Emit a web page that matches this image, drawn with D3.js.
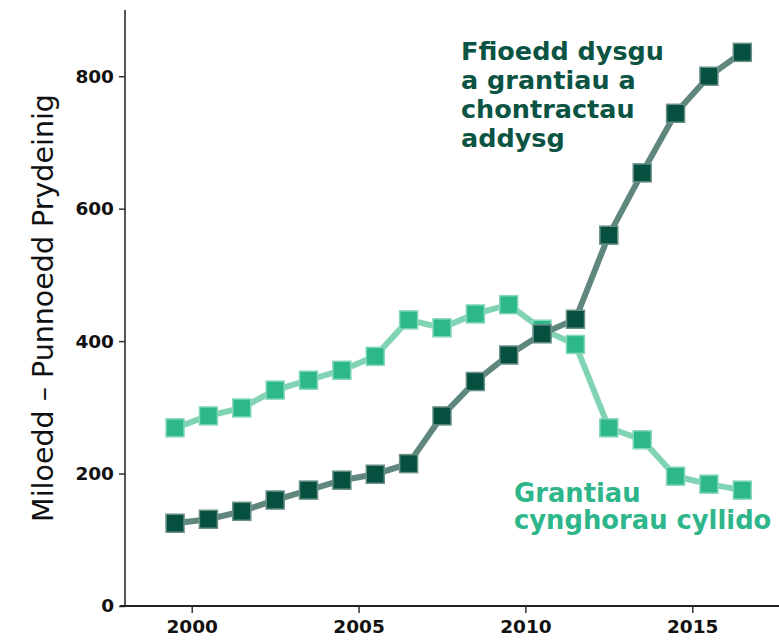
<!DOCTYPE html>
<html>
<head>
<meta charset="utf-8">
<script src="https://cdn.jsdelivr.net/npm/d3@7"></script>
<style>
  html, body { margin: 0; padding: 0; background: #ffffff; }
  svg { display: block; }
</style>
</head>
<body>
<svg id="chart" width="779" height="640"></svg>
<script>
// ---- data ----
const years = [1999.5, 2000.5, 2001.5, 2002.5, 2003.5, 2004.5, 2005.5, 2006.5, 2007.5,
               2008.5, 2009.5, 2010.5, 2011.5, 2012.5, 2013.5, 2014.5, 2015.5, 2016.5];
const ffioeddValues = [125, 131, 143, 160, 175, 190, 199, 215, 287,
                       339, 379, 411, 433, 560, 654, 744, 800, 836];
const grantiauValues = [269, 287, 299, 326, 341, 356, 377, 432, 420,
                        441, 455, 418, 395, 269, 251, 196, 184, 175];
const xTickValues = [2000, 2005, 2010, 2015];
const yTickValues = [0, 200, 400, 600, 800];
const yAxisTitle = "Miloedd – Punnoedd Prydeinig";
const ffioeddLabel = ["Ffioedd dysgu", "a grantiau a", "chontractau", "addysg"];
const grantiauLabel = ["Grantiau", "cynghorau cyllido"];

// ---- layout ----
const svg = d3.select("#chart");
const x = d3.scaleLinear().domain([1998, 2017.6]).range([125, 779]);
const y = d3.scaleLinear().domain([0, 900]).range([606, 10]);

const darkFill = "#06503f", darkLine = "#5f877d", darkStroke = "#6a9088";
const lightFill = "#2db88c", lightLine = "#80d3b3", lightStroke = "#86d8b8";
const darkText = "#0b5443", lightText = "#2db68a";

// axes
const yAxis = svg.append("g")
  .attr("transform", `translate(${x(1998)},0)`)
  .call(d3.axisLeft(y).tickValues(yTickValues).tickSize(6).tickPadding(5).tickFormat(d3.format("d")));
yAxis.select(".domain").attr("stroke", "#555").attr("stroke-width", 2).attr("d", `M0,${y(900)}V${y(0)}`);
yAxis.selectAll(".tick line").attr("stroke", "#333").attr("stroke-width", 1.5);
yAxis.selectAll(".tick text")
  .attr("font-family", "DejaVu Sans, sans-serif").attr("font-size", 18.5)
  .attr("fill", "#111").attr("font-weight", "bold");

const xAxis = svg.append("g")
  .attr("transform", `translate(0,${y(0)})`)
  .call(d3.axisBottom(x).tickValues(xTickValues).tickSize(7).tickPadding(7).tickFormat(d3.format("d")));
xAxis.select(".domain").attr("stroke", "#222").attr("stroke-width", 2).attr("d", `M120,0H779`);
xAxis.selectAll(".tick line").attr("stroke", "#333").attr("stroke-width", 1.5);
xAxis.selectAll(".tick text")
  .attr("font-family", "DejaVu Sans, sans-serif").attr("font-size", 18.5)
  .attr("fill", "#111").attr("font-weight", "bold");

// y-axis title
svg.append("text")
  .attr("transform", `translate(53,${(y(0) + y(900)) / 2}) rotate(-90)`)
  .attr("text-anchor", "middle")
  .attr("font-family", "DejaVu Sans, sans-serif")
  .attr("font-size", 28.5)
  .attr("fill", "#111")
  .text(yAxisTitle);

// series
const line = d3.line().x(d => x(d[0])).y(d => y(d[1]));
function drawSeries(vals, lineColor, fill, stroke) {
  const pts = years.map((yr, i) => [yr, vals[i]]);
  svg.append("path").datum(pts)
    .attr("d", line).attr("fill", "none")
    .attr("stroke", lineColor).attr("stroke-width", 6);
  const s = 18;
  svg.append("g").selectAll("rect").data(pts).join("rect")
    .attr("x", d => x(d[0]) - s / 2).attr("y", d => y(d[1]) - s / 2)
    .attr("width", s).attr("height", s)
    .attr("fill", fill).attr("stroke", stroke).attr("stroke-width", 1.5);
}
drawSeries(grantiauValues, lightLine, lightFill, lightStroke);
drawSeries(ffioeddValues, darkLine, darkFill, darkStroke);

// labels
const t1 = svg.append("text")
  .attr("font-family", "DejaVu Sans, sans-serif").attr("font-weight", "bold")
  .attr("font-size", 25.5).attr("fill", darkText);
ffioeddLabel.forEach((s, i) => t1.append("tspan").attr("x", 461).attr("y", 60 + i * 29).text(s));

const t2 = svg.append("text")
  .attr("font-family", "DejaVu Sans, sans-serif").attr("font-weight", "bold")
  .attr("font-size", 25.8).attr("fill", lightText);
grantiauLabel.forEach((s, i) => t2.append("tspan").attr("x", 514).attr("y", 502 + i * 27).text(s));
</script>
</body>
</html>
